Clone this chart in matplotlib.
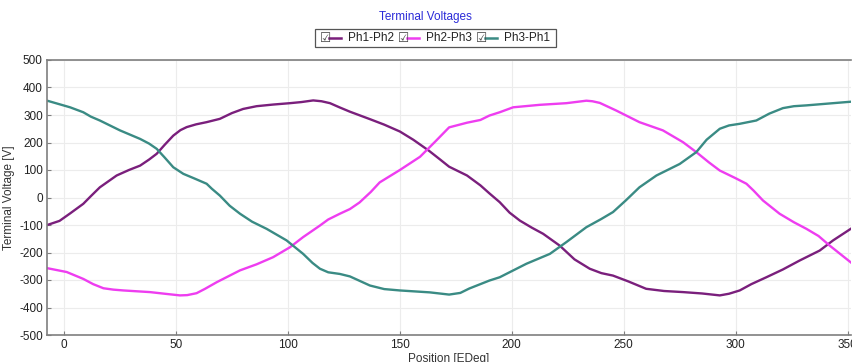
import matplotlib
matplotlib.use("Agg")
import matplotlib.pyplot as plt
from matplotlib.lines import Line2D
from matplotlib.patches import Rectangle

plt.rcParams['font.family'] = ['Liberation Sans', 'DejaVu Sans']
plt.rcParams['axes.unicode_minus'] = False

# Line-to-line terminal voltages vs rotor position (electrical degrees)
ph12_x = [-7.5, -2, 2.7, 8.6, 12, 16, 23.5, 29, 34, 38, 41.4, 45, 48.8, 52, 54.8,
          59, 63.7, 69.6, 75, 80, 86, 93.4, 100.9, 106, 111.3, 115, 118.8, 123,
          127.7, 136.6, 143, 150, 156, 163, 168, 172, 180, 186, 190, 194.6, 199,
          203.6, 209, 214, 221.4, 228, 234.8, 240, 245.2, 252, 260, 268, 276.5, 285,
          292.9, 297, 301.8, 307, 313.7, 321, 328.6, 337.5, 343.5, 352.5]
ph12_v = [-100, -85, -58, -23, 5, 37, 80, 100, 116, 138, 159, 192, 225, 245, 256,
          266, 274, 286, 307, 322, 332, 338, 343, 347, 353, 350, 343, 328,
          312, 285, 265, 240, 210, 170, 138, 112, 80, 44, 15, -17, -55,
          -84, -110, -132, -175, -225, -259, -275, -284, -305, -332, -340, -344, -349,
          -356, -350, -338, -315, -290, -262, -229, -193, -156, -108]

ph23_x = [-7.5, 1.2, 8.6, 13, 17.6, 22, 26.5, 38.4, 45, 51.8, 55, 59.2, 63, 68.2,
          78.6, 86, 93.4, 100.9, 106.8, 114.3, 118, 123.2, 127.7, 132, 137, 141,
          150, 159, 166, 172, 180, 186, 190, 194.6, 200.6, 212.5, 224.4, 233.3,
          236, 239.3, 246.7, 257, 267.5, 276.5, 282.4, 288, 292.9, 300, 304.8,
          308, 312.2, 319.6, 326, 331.6, 337, 342, 352.5]
ph23_v = [-257, -271, -296, -315, -330, -335, -338, -344, -350, -356, -355, -348,
          -332, -308, -265, -243, -217, -181, -144, -102, -80, -59, -42, -18, 20,
          55, 100, 148, 205, 255, 272, 282, 298, 310, 328, 337, 343, 352, 350,
          344, 316, 274, 244, 201, 165, 128, 98, 70, 50, 25, -11, -59, -90, -114,
          -140, -175, -243]

ph31_x = [-7.5, 2.7, 8.6, 12, 16, 25, 34, 38, 41.4, 45, 48.8, 53.3, 58, 63.7, 66,
          69.6, 74, 78.6, 84, 90.5, 99.4, 106.8, 111, 114.3, 118, 123.2, 127.7,
          136.6, 143, 150, 163.4, 172, 177, 181, 190, 194.6, 206.5, 217, 224.4,
          233.3, 240, 245.2, 251, 257, 264.6, 275, 282.4, 287, 292.9, 297, 301.8,
          309.2, 315, 321.1, 326, 331.6, 342, 352.5]
ph31_v = [352, 328, 310, 294, 280, 244, 213, 196, 177, 145, 110, 86, 70, 50, 32,
          7, -30, -59, -88, -114, -156, -205, -238, -259, -272, -278, -287,
          -320, -333, -338, -345, -353, -347, -331, -302, -290, -241, -205, -162,
          -108, -78, -53, -10, 37, 80, 122, 165, 210, 250, 262, 268, 280, 305,
          325, 332, 335, 342, 349]

series = [("Ph1-Ph2", ph12_x, ph12_v, "#7a1f7c"),
          ("Ph2-Ph3", ph23_x, ph23_v, "#ee3df0"),
          ("Ph3-Ph1", ph31_x, ph31_v, "#3a8b84")]

fig = plt.figure(figsize=(8.53, 3.62), dpi=100)
ax = fig.add_axes([47 / 853, 1 - 335 / 362, (851 - 47) / 853, (335 - 60) / 362])

for name, xs, vs, col in series:
    ax.plot(xs, vs, color=col, lw=1.7, solid_capstyle='round',
            solid_joinstyle='round', label=name)

ax.set_xlim(-7.6, 351.5)
ax.set_ylim(-500, 500)
ax.set_xticks([0, 50, 100, 150, 200, 250, 300, 350])
ax.set_yticks(range(-500, 501, 100))
ax.grid(True, color='#ececec', lw=0.8)
ax.set_axisbelow(True)
for s in ['left', 'bottom', 'top']:
    ax.spines[s].set_color('#7f7f7f')
    ax.spines[s].set_linewidth(1.2)
ax.spines['right'].set_visible(False)
ax.tick_params(axis='both', labelsize=8.5, colors='#7f7f7f', labelcolor='#222222',
               direction='in', length=3, pad=3)
ax.set_ylabel("Terminal Voltage [V]", fontsize=8.5, color='#333333')
ax.yaxis.set_label_coords(-(47 - 15) / 804, 0.5)
ax.set_xlabel("Position [EDeg]", fontsize=8.5, color='#333333', labelpad=1)

fig.text(425 / 853, 1 - 17 / 362, "Terminal Voltages", ha='center', va='center',
         fontsize=8.5, color='#2b2bd8')

# Legend box with checkbox, line swatch and label for each series
W, H = 853, 362
fig.add_artist(Rectangle((315 / W, 1 - 47 / H), (556 - 315) / W, (47 - 29) / H,
                         transform=fig.transFigure, fill=False, ec='#555555', lw=0.9))
starts = [320, 398, 476]
for (name, xs, vs, col), x0 in zip(series, starts):
    yc = 1 - 38 / H
    fig.text(x0 / W, yc, "\u2611", ha='left', va='center', fontsize=9,
             color='#444444', family=['DejaVu Sans'])
    fig.add_artist(Line2D([(x0 + 9) / W, (x0 + 21) / W], [yc, yc], color=col, lw=1.8,
                          transform=fig.transFigure))
    fig.text((x0 + 28) / W, yc, name, ha='left', va='center', fontsize=8.5,
             color='#222222')

fig.savefig("out.png", dpi=100)
